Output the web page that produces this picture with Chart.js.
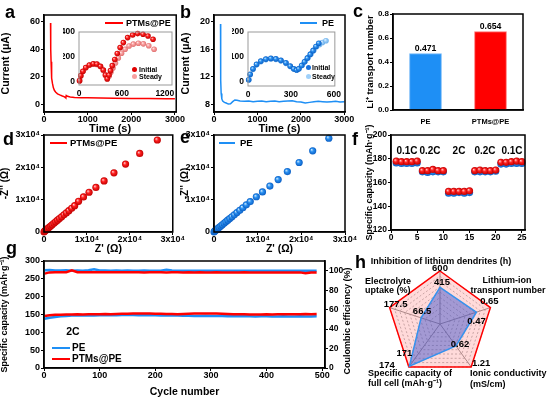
<!DOCTYPE html>
<html>
<head>
<meta charset="utf-8">
<script src="https://cdn.jsdelivr.net/npm/chart.js@4.4.1/dist/chart.umd.min.js"></script>
<style>
  body { margin: 0; background: #fff; }
  #fig { position: relative; width: 550px; height: 398px; overflow: hidden; font-family: "Liberation Sans", Arial, sans-serif; }
  #fig canvas { position: absolute; }
  .tx { position: absolute; font-weight: bold; line-height: 1; white-space: nowrap; color: #000; }
  .ln { position: absolute; height: 2px; }
  .dot { position: absolute; width: 5px; height: 5px; border-radius: 50%; }
</style>
</head>
<body>
<div id="fig"></div>
<script>
// ---- data ----
// a: current vs time, PTMs@PE
var aTime = [150,152,156,162,170,180,195,215,240,270,310,360,420,470,490,500,510,540,600,700,850,1000,1300,1600,2000,2400,2800,3000];
var aCurrent = [59,50,40,31,24,19,15,12,10,8.8,7.6,6.8,6.0,5.4,4.9,4.6,6.4,5.8,5.3,5.0,4.8,4.7,4.5,4.4,4.3,4.2,4.1,4.0];
var aTicksX = [0, 1000, 2000, 3000], aTicksY = [0, 20, 40, 60];
// a inset: impedance initial / steady
var aInitX = [8,25,55,95,145,200,250,300,340,370,395,420,440,465,500,535,575,620,680,750,820,895,965,1035];
var aInitY = [10,50,85,115,135,145,143,125,95,55,25,55,90,130,180,228,275,315,355,376,387,382,368,342];
var aSteadyX = [8,25,55,95,145,200,250,300,340,370,395,420,445,475,510,550,595,645,700,760,830,900,975,1050];
var aSteadyY = [8,48,83,113,133,142,140,122,92,52,22,45,78,112,152,192,230,262,288,303,310,305,290,262];
var aInTicksX = [0, 600, 1200], aInTicksY = [0, 200, 400];

// b: current vs time, PE
var bTime = [150,152,156,165,180,200,240,280,330,380,430,480,530,600,700,800,900,1000,1100,1200,1300,1400,1500,1600,1700,1800,1900,2000,2100,2200,2300,2400,2500,2600,2700,2800,2900,3000];
var bCurrent = [19.7,15,11.5,9.6,8.8,8.5,8.3,8.2,8.05,8.1,8.4,8.65,8.6,8.5,8.45,8.5,8.4,8.45,8.5,8.4,8.45,8.5,8.4,8.45,8.5,8.55,8.4,8.35,8.2,8.3,8.4,8.45,8.4,8.35,8.4,8.45,8.35,8.4];
var bTicksY = [8, 12, 16, 20];
var bInitX = [5,15,35,60,90,125,160,195,230,265,295,320,340,355,375,395,415,435,455,475,495];
var bInitY = [8,30,52,70,83,91,94,92,86,76,63,52,47,52,65,80,95,110,125,142,155];
var bSteadyX = [5,15,35,60,90,125,160,195,230,265,295,320,340,358,380,400,420,440,460,480,500,520,545];
var bSteadyY = [7,28,50,68,81,89,92,90,84,74,61,51,47,53,67,82,97,112,127,142,150,158,165];
var bInTicksX = [0, 300, 600], bInTicksY = [0, 100, 200];

// c: Li+ transport number
var cLabels = ['PE', 'PTMs@PE'];
var cValues = [0.471, 0.654];
var cTicksY = [0, 0.2, 0.4, 0.6, 0.8];

// d, e: Nyquist plots
var dX = [0,150,350,600,900,1200,1550,1900,2300,2700,3150,3600,4100,4650,5200,5800,6450,7150,8050,9200,10500,12100,14000,16300,19000,22300,26400];
var dY = [0,250,500,800,1100,1450,1850,2250,2700,3150,3650,4150,4700,5300,5900,6600,7350,8150,9500,10850,12300,13800,15800,18300,21000,24300,28450];
var eX = [0,150,350,600,900,1200,1550,1900,2300,2700,3150,3600,4100,4650,5250,5900,6600,7400,8300,9700,11100,12800,14700,16800,19500,22600,26300];
var eY = [0,250,500,800,1100,1450,1850,2250,2700,3150,3650,4150,4700,5300,6000,6700,7500,8400,9400,10900,12400,14200,16200,18700,21500,25100,29000];
var zTicks = [0, 10000, 20000, 30000];

// f: rate performance
var fCycle = [1,2,3,4,5,6,7,8,9,10,11,12,13,14,15,16,17,18,19,20,21,22,23,24,25];
var fPtms = [178,177.5,177.5,177.5,178,170,170,171,170,170,152.5,152.5,152.5,152.5,153,170,170.5,170,170,170.5,177,177,177.5,178,177.5];
var fPe = [176.5,176,176,176,176.5,169,168.5,169,169,169,151,151,151.5,151,151.5,169,169,169,169,169.5,175.5,175.5,176,176,176];
var fRates = ['0.1C', '0.2C', '2C', '0.2C', '0.1C'];
var fTicksX = [0, 5, 10, 15, 20, 25], fTicksY = [120, 140, 160, 180, 200];

// g: cycling at 2C
var gCycle = [1,10,20,30,40,50,60,70,80,90,100,110,120,130,140,150,160,170,180,190,200,210,220,230,240,250,260,270,280,290,300,310,320,330,340,350,360,370,380,390,400,410,420,430,440,450,460,470,480,490];
var gPeCap = [138,141,143,145,146,147,147.5,147,148,147.5,148,148.5,148,148,148.5,149,148.5,148,148.5,148,148,147.5,147.5,147,147,146.5,146.5,146,146,146.5,146,145.5,145.5,145,145,145.5,145,145,144.5,145,145,144.5,144.5,145,144.5,144.5,145,144.5,144.5,145];
var gPtmsCap = [146,148,149,149.5,150,150,150.5,150,150.5,151,151,151.5,151,151.5,152,152,152.5,153,152.5,152.5,152,152,151.5,151.5,151,151.5,152,152.5,153,153,152.5,152.5,152,151.5,151,150.5,150.5,150,150,150,150.5,150,150.5,151,151,150.5,151,151.5,151,151.5];
var gPeCE = [100.5,100.8,100.3,100.2,100.4,100.1,100.3,100,100.6,101.5,100.2,100.3,100.1,100.2,100,100.2,100.1,100,100.2,100.1,100,100.1,101.0,100.2,100,100.1,100,100.1,99.9,100,100.1,100,99.9,100,100.1,99.9,100,100,99.9,100,100,99.9,100,100.1,99.9,100,100,99.9,100,100];
var gPtmsCE = [97,98.3,98.5,98.4,98.5,100.5,98.4,98.5,98.5,98.4,98.5,98.5,98.4,98.5,98.4,98.5,98.5,98.4,98.3,98.4,98.5,98.4,98.3,98.4,98.4,98.3,98.4,98.3,98.4,98.3,98.3,98.4,98.3,98.2,98.3,98.3,98.4,98.3,98.3,98.2,98.3,98.3,98.2,98.3,98.3,98.2,98.3,97.3,98.2,98.3];
var gTicksX = [0, 100, 200, 300, 400, 500], gTicksY = [0, 50, 100, 150, 200, 250, 300], gTicksCE = [0, 20, 40, 60, 80, 100];

// h: radar
var hAxes = ['Inhibition of lithium dendrites (h)', 'Lithium-ion transport number', 'Ionic conductivity (mS/cm)', 'Specific capacity of full cell (mAh·g⁻¹)', 'Electrolyte uptake (%)'];
var hPtms = [600, 0.65, 1.21, 174, 177.5];
var hPe = [415, 0.47, 0.62, 171, 66.5];
var hRings = [0.1, 0.2, 0.3, 0.4, 0.5, 0.6, 0.7, 0.8, 0.9, 1];

// ---- setup ----
Chart.defaults.font.family = '"Liberation Sans", Arial, sans-serif';
Chart.defaults.font.weight = 'bold';
Chart.defaults.font.size = 9;
Chart.defaults.font.lineHeight = 1.1;
Chart.defaults.color = '#000';
Chart.defaults.animation = false;
Chart.defaults.responsive = false;
Chart.defaults.events = [];
Chart.defaults.plugins.legend.display = false;
Chart.defaults.plugins.tooltip.enabled = false;

var RED = '#f00', BLUE = '#1e8ff5';
var fig = document.getElementById('fig');

function canvasAt(x, y, w, h) {
  var c = document.createElement('canvas');
  c.width = w; c.height = h;
  c.style.left = x + 'px'; c.style.top = y + 'px';
  c.style.width = w + 'px'; c.style.height = h + 'px';
  fig.appendChild(c);
  return c;
}

function xy(xs, ys) {
  return xs.map(function (x, i) { return { x: x, y: ys[i] }; });
}

// html text, centred on y; align = left / center / right
function t(s, x, y, size, align, rot) {
  var d = document.createElement('div');
  d.className = 'tx';
  d.innerHTML = s;
  d.style.left = x + 'px'; d.style.top = y + 'px'; d.style.fontSize = size + 'px';
  var tx = align === 'left' ? '0' : (align === 'right' ? '-100%' : '-50%');
  d.style.transform = 'translate(' + tx + ',-50%)' + (rot ? ' rotate(' + rot + 'deg)' : '');
  fig.appendChild(d);
}
function letter(ch, x, base) {
  var d = document.createElement('div');
  d.className = 'tx';
  d.textContent = ch;
  d.style.fontSize = '18px';
  d.style.left = x + 'px'; d.style.top = (base - 15.3) + 'px';
  fig.appendChild(d);
}
function legLine(x0, x1, y, color) {
  var d = document.createElement('div');
  d.className = 'ln';
  d.style.left = x0 + 'px'; d.style.width = (x1 - x0) + 'px';
  d.style.top = (y - 1) + 'px'; d.style.background = color;
  fig.appendChild(d);
}
function legDot(x, y, color) {
  var d = document.createElement('div');
  d.className = 'dot';
  d.style.left = (x - 2.5) + 'px'; d.style.top = (y - 2.5) + 'px'; d.style.background = color;
  fig.appendChild(d);
}

var framePlugin = {
  id: 'frame',
  afterDraw: function (chart, args, o) {
    var a = chart.chartArea, ctx = chart.ctx;
    ctx.save();
    ctx.strokeStyle = o.color || '#000';
    ctx.lineWidth = o.width || 1.5;
    ctx.strokeRect(a.left, a.top, a.right - a.left, a.bottom - a.top);
    ctx.restore();
  }
};

// linear axis with a fixed box size and a fixed list of ticks
function lin(o) {
  return {
    type: 'linear', position: o.pos, min: o.min, max: o.max,
    afterFit: function (s) { if (s.isHorizontal()) s.height = o.size; else s.width = o.size; },
    afterBuildTicks: function (s) { s.ticks = o.list.map(function (v) { return { value: v }; }); },
    grid: { display: o.ticks !== false, drawOnChartArea: false, color: '#000', tickLength: 3, lineWidth: 1 },
    border: { display: o.border !== false, color: '#000', width: 1.5 },
    ticks: { padding: o.pad == null ? 1 : o.pad, font: { size: o.fs || 9 }, maxRotation: 0, autoSkip: false,
      callback: o.fmt || function (v) { return v; } },
    title: { display: !!o.title, text: o.title, font: { size: o.tfs || 10 }, padding: 0 }
  };
}

function ball(light, mid, dark) {
  return function (c) {
    var ch = c.chart, p = c.parsed, r = c.dataset.pointRadius;
    if (!p || !ch.scales.x || !ch.scales.y) return mid;
    var x = ch.scales.x.getPixelForValue(p.x), y = ch.scales.y.getPixelForValue(p.y);
    if (!isFinite(x) || !isFinite(y)) return mid;
    var g = ch.ctx.createRadialGradient(x - r * 0.35, y - r * 0.35, 0, x, y, r);
    g.addColorStop(0, light); g.addColorStop(0.45, mid); g.addColorStop(1, dark);
    return g;
  };
}
var redBall = ball('#ffd6d6', '#ff2020', '#c00000');
var blueBall = ball('#d6eeff', '#2a90f0', '#0a5ec4');
var paleRedBall = ball('#fff0f0', '#f9a0a0', '#e07070');
var paleBlueBall = ball('#f0f8ff', '#9fd0fa', '#6aaee8');

function sci(v) { return v === 0 ? '0' : (v / 10000) + 'x10⁴'; }

function pts(xs, ys, fill, r) {
  return { data: xy(xs, ys), showLine: false, pointRadius: r, pointBackgroundColor: fill, pointBorderWidth: 0, clip: false };
}

// ---- a ----
new Chart(canvasAt(0, 0, 185, 135), {
  type: 'line',
  data: { datasets: [{ data: xy(aTime, aCurrent), borderColor: RED, borderWidth: 1.5, pointRadius: 0 }] },
  options: {
    layout: { padding: { top: 15, right: 8 } },
    scales: {
      x: lin({ pos: 'bottom', min: 0, max: 3030, list: aTicksX, size: 23, title: 'Time (s)', tfs: 11, pad: 0 }),
      y: lin({ pos: 'left', min: -5.6, max: 64.9, list: aTicksY, size: 44, title: 'Current (μA)', tfs: 10.5 })
    }
  },
  plugins: [framePlugin]
});
new Chart(canvasAt(63, 25, 115, 71), {
  type: 'line',
  data: { datasets: [pts(aInitX, aInitY, redBall, 2.8), pts(aSteadyX, aSteadyY, paleRedBall, 2.8)] },
  options: {
    layout: { padding: { top: 7, right: 6 } },
    scales: {
      x: lin({ pos: 'bottom', min: 0, max: 1300, list: aInTicksX, size: 11, ticks: false, border: false, pad: 1, fs: 8.5 }),
      y: lin({ pos: 'left', min: -25, max: 400, list: aInTicksY, size: 16, ticks: false, border: false, fs: 8.5 })
    },
    plugins: { frame: { color: '#999', width: 1 } }
  },
  plugins: [framePlugin]
});

// ---- b ----
new Chart(canvasAt(180, 0, 185, 135), {
  type: 'line',
  data: { datasets: [{ data: xy(bTime, bCurrent), borderColor: BLUE, borderWidth: 1.5, pointRadius: 0 }] },
  options: {
    layout: { padding: { top: 15, right: 20 } },
    scales: {
      x: lin({ pos: 'bottom', min: 0, max: 3015, list: aTicksX, size: 23, title: 'Time (s)', tfs: 11, pad: 0 }),
      y: lin({ pos: 'left', min: 6.9, max: 21, list: bTicksY, size: 34, title: 'Current (μA)', tfs: 10.5 })
    }
  },
  plugins: [framePlugin]
});
new Chart(canvasAt(232, 25, 110, 72), {
  type: 'line',
  data: { datasets: [pts(bInitX, bInitY, blueBall, 2.8), pts(bSteadyX, bSteadyY, paleBlueBall, 2.8)] },
  options: {
    layout: { padding: { top: 7, right: 6 } },
    scales: {
      x: lin({ pos: 'bottom', min: 0, max: 607, list: bInTicksX, size: 11, ticks: false, border: false, pad: 1, fs: 8.5 }),
      y: lin({ pos: 'left', min: -17, max: 200, list: bInTicksY, size: 16, ticks: false, border: false, fs: 8.5 })
    },
    plugins: { frame: { color: '#999', width: 1 } }
  },
  plugins: [framePlugin]
});

// ---- c ----
var barValues = {
  id: 'barValues',
  afterDatasetsDraw: function (chart) {
    var ctx = chart.ctx, meta = chart.getDatasetMeta(0), ds = chart.data.datasets[0];
    ctx.save();
    ctx.font = 'bold 8.7px "Liberation Sans", Arial';
    ctx.fillStyle = '#000'; ctx.textAlign = 'center'; ctx.textBaseline = 'bottom';
    meta.data.forEach(function (bar, i) { ctx.fillText(ds.data[i].toFixed(3), bar.x, bar.y - 0.5); });
    ctx.restore();
  }
};
new Chart(canvasAt(365, 0, 185, 135), {
  type: 'bar',
  data: { labels: cLabels, datasets: [{ data: cValues, backgroundColor: ['#1e8ff5', '#f00'], borderColor: ['#6fb6f8', '#ff7070'], borderWidth: 1, barThickness: 32 }] },
  options: {
    layout: { padding: { top: 14, right: 27 } },
    scales: {
      x: { type: 'category', afterFit: function (s) { s.height = 25; }, grid: { display: false },
        border: { color: '#000', width: 1.5 }, ticks: { font: { size: 7.5 }, padding: 0 } },
      y: lin({ pos: 'left', min: 0, max: 0.8, list: cTicksY, size: 28, title: 'Li⁺ transport number', tfs: 9.5, fs: 8,
        fmt: function (v) { return v.toFixed(1); } })
    }
  },
  plugins: [framePlugin, barValues]
});

// ---- d ----
new Chart(canvasAt(0, 128, 185, 127), {
  type: 'line',
  data: { datasets: [pts(dX, dY, redBall, 3.6)] },
  options: {
    layout: { padding: { top: 7, right: 8 } },
    scales: {
      x: lin({ pos: 'bottom', min: 0, max: 30000, list: zTicks, size: 23, title: "Z' (Ω)", tfs: 10.5, pad: 0, fmt: sci }),
      y: lin({ pos: 'left', min: 0, max: 30000, list: zTicks, size: 44, title: "-Z'' (Ω)", tfs: 10, fmt: sci })
    }
  },
  plugins: [framePlugin]
});

// ---- e ----
new Chart(canvasAt(180, 128, 185, 127), {
  type: 'line',
  data: { datasets: [pts(eX, eY, blueBall, 3.6)] },
  options: {
    layout: { padding: { top: 7, right: 20 } },
    scales: {
      x: lin({ pos: 'bottom', min: 0, max: 30000, list: zTicks, size: 23, title: "Z' (Ω)", tfs: 10.5, pad: 0, fmt: sci }),
      y: lin({ pos: 'left', min: 0, max: 30000, list: zTicks, size: 34, title: "-Z'' (Ω)", tfs: 10, fmt: sci })
    }
  },
  plugins: [framePlugin]
});

// ---- f ----
new Chart(canvasAt(365, 120, 185, 135), {
  type: 'line',
  data: { datasets: [pts(fCycle, fPtms, redBall, 3.6), pts(fCycle, fPe, blueBall, 3.6)] },
  options: {
    layout: { padding: { top: 15, right: 25 } },
    scales: {
      x: lin({ pos: 'bottom', min: 0, max: 25.6, list: fTicksX, size: 25, pad: 0, fs: 8.5 }),
      y: lin({ pos: 'left', min: 120, max: 200, list: fTicksY, size: 26, title: 'Specific capacity (mAh·g⁻¹)', tfs: 9, fs: 8.5 })
    }
  },
  plugins: [framePlugin]
});

// ---- g ----
function gLine(ys, color, axis) {
  return { data: xy(gCycle, ys), borderColor: color, borderWidth: 2.5, pointRadius: 0, yAxisID: axis };
}
new Chart(canvasAt(0, 255, 353, 143), {
  type: 'line',
  data: { datasets: [gLine(gPtmsCap, RED, 'y'), gLine(gPtmsCE, RED, 'y2'), gLine(gPeCap, BLUE, 'y'), gLine(gPeCE, BLUE, 'y2')] },
  options: {
    layout: { padding: { top: 6 } },
    scales: {
      x: lin({ pos: 'bottom', min: 0, max: 505, list: gTicksX, size: 30, title: 'Cycle number', tfs: 10.5, pad: 0 }),
      y: lin({ pos: 'left', min: 0, max: 300, list: gTicksY, size: 44, title: 'Specific capacity (mAh·g⁻¹)', tfs: 9 }),
      y2: lin({ pos: 'right', min: 0, max: 110, list: gTicksCE, size: 28, fs: 8.5 })
    }
  },
  plugins: [framePlugin]
});

// ---- h ----
var radarValues = {
  id: 'radarValues',
  afterDatasetsDraw: function (chart, args, o) {
    var r = chart.scales.r, ctx = chart.ctx;
    ctx.save();
    ctx.font = 'bold 9.5px "Liberation Sans", Arial';
    ctx.fillStyle = '#000'; ctx.textAlign = 'center'; ctx.textBaseline = 'middle';
    o.sets.forEach(function (s) {
      var ds = chart.data.datasets[s.ds];
      s.values.forEach(function (v, i) {
        var p = r.getPointPositionForValue(i, ds.data[i]);
        ctx.fillText(String(v), p.x + s.off[i][0], p.y + s.off[i][1]);
      });
    });
    ctx.restore();
  }
};
new Chart(canvasAt(365, 258, 185, 140), {
  type: 'radar',
  data: {
    labels: hAxes,
    datasets: [
      { label: 'PE', data: hPe.map(function (v, i) { return v / hPtms[i]; }), borderColor: '#3592ee', backgroundColor: 'rgba(50,75,205,0.45)', borderWidth: 1.5, pointRadius: 0 },
      { label: 'PTMs@PE', data: hPtms.map(function (v, i) { return v / hPtms[i]; }), borderColor: RED, backgroundColor: 'rgba(255,70,70,0.2)', borderWidth: 1.5, pointRadius: 0 }
    ]
  },
  options: {
    layout: { padding: { left: 22, top: 13, right: 57, bottom: 21 } },
    elements: { line: { tension: 0 } },
    scales: {
      r: {
        min: 0, max: 1,
        afterBuildTicks: function (s) { s.ticks = hRings.map(function (v) { return { value: v }; }); },
        ticks: { display: false },
        grid: { color: '#aaa', lineWidth: 0.8 },
        border: { dash: [2, 2] },
        angleLines: { color: '#999', lineWidth: 1 },
        pointLabels: { display: false }
      }
    },
    plugins: {
      radarValues: {
        sets: [
          { ds: 1, values: hPtms, off: [[0, -3], [-1, -6], [10, -4], [-22, -2], [6, -3]] },
          { ds: 0, values: hPe, off: [[2, -5], [0, 9], [4, -2], [-5, -13], [1, -6]] }
        ]
      }
    }
  },
  plugins: [radarValues]
});

// ---- text ----
letter('a', 5, 18); letter('b', 180, 18); letter('c', 353, 17);
letter('d', 3, 145); letter('e', 180, 143); letter('f', 352, 145);
letter('g', 6, 254); letter('h', 355, 268);

legLine(105, 123, 23, RED); t('PTMs@PE', 126, 23, 9, 'left');
legLine(300, 317, 23, BLUE); t('PE', 322, 23, 9, 'left');
legDot(134, 69, '#e00000'); t('Initial', 139, 69, 7, 'left');
legDot(134, 76, '#f7a0a0'); t('Steady', 139, 76, 7, 'left');
legDot(308, 67, '#1670dd'); t('Initial', 312, 67, 7, 'left');
legDot(308, 76, '#9fd0fa'); t('Steady', 312, 76, 7, 'left');
legLine(50, 67, 143, RED); t('PTMs@PE', 70, 143, 9.5, 'left');
legLine(219, 235, 143, BLUE); t('PE', 240, 143, 9.5, 'left');

var fx = [407, 430, 459, 485, 512];
fRates.forEach(function (s, i) { t(s, fx[i], 151, 10, 'center'); });

t('2C', 73, 331, 10.5, 'center');
legLine(52, 70, 348, BLUE); t('PE', 72, 348, 10, 'left');
legLine(52, 70, 359, RED); t('PTMs@PE', 72, 359, 10, 'left');
t('Coulombic efficiency (%)', 347, 321, 9, 'center', -90);

t('Inhibition of lithium dendrites (h)', 441, 261, 9, 'center');
t('Electrolyte', 365, 281, 9, 'left'); t('uptake (%)', 365, 290, 9, 'left');
t('Lithium-ion', 507, 280, 9, 'center'); t('transport number', 508, 290, 9, 'center');
t('Specific capacity of', 368, 373, 9, 'left'); t('full cell (mAh·g⁻¹)', 368, 383, 9, 'left');
t('Ionic conductivity', 470, 373, 9, 'left'); t('(mS/cm)', 470, 384, 9, 'left');
</script>
</body>
</html>
